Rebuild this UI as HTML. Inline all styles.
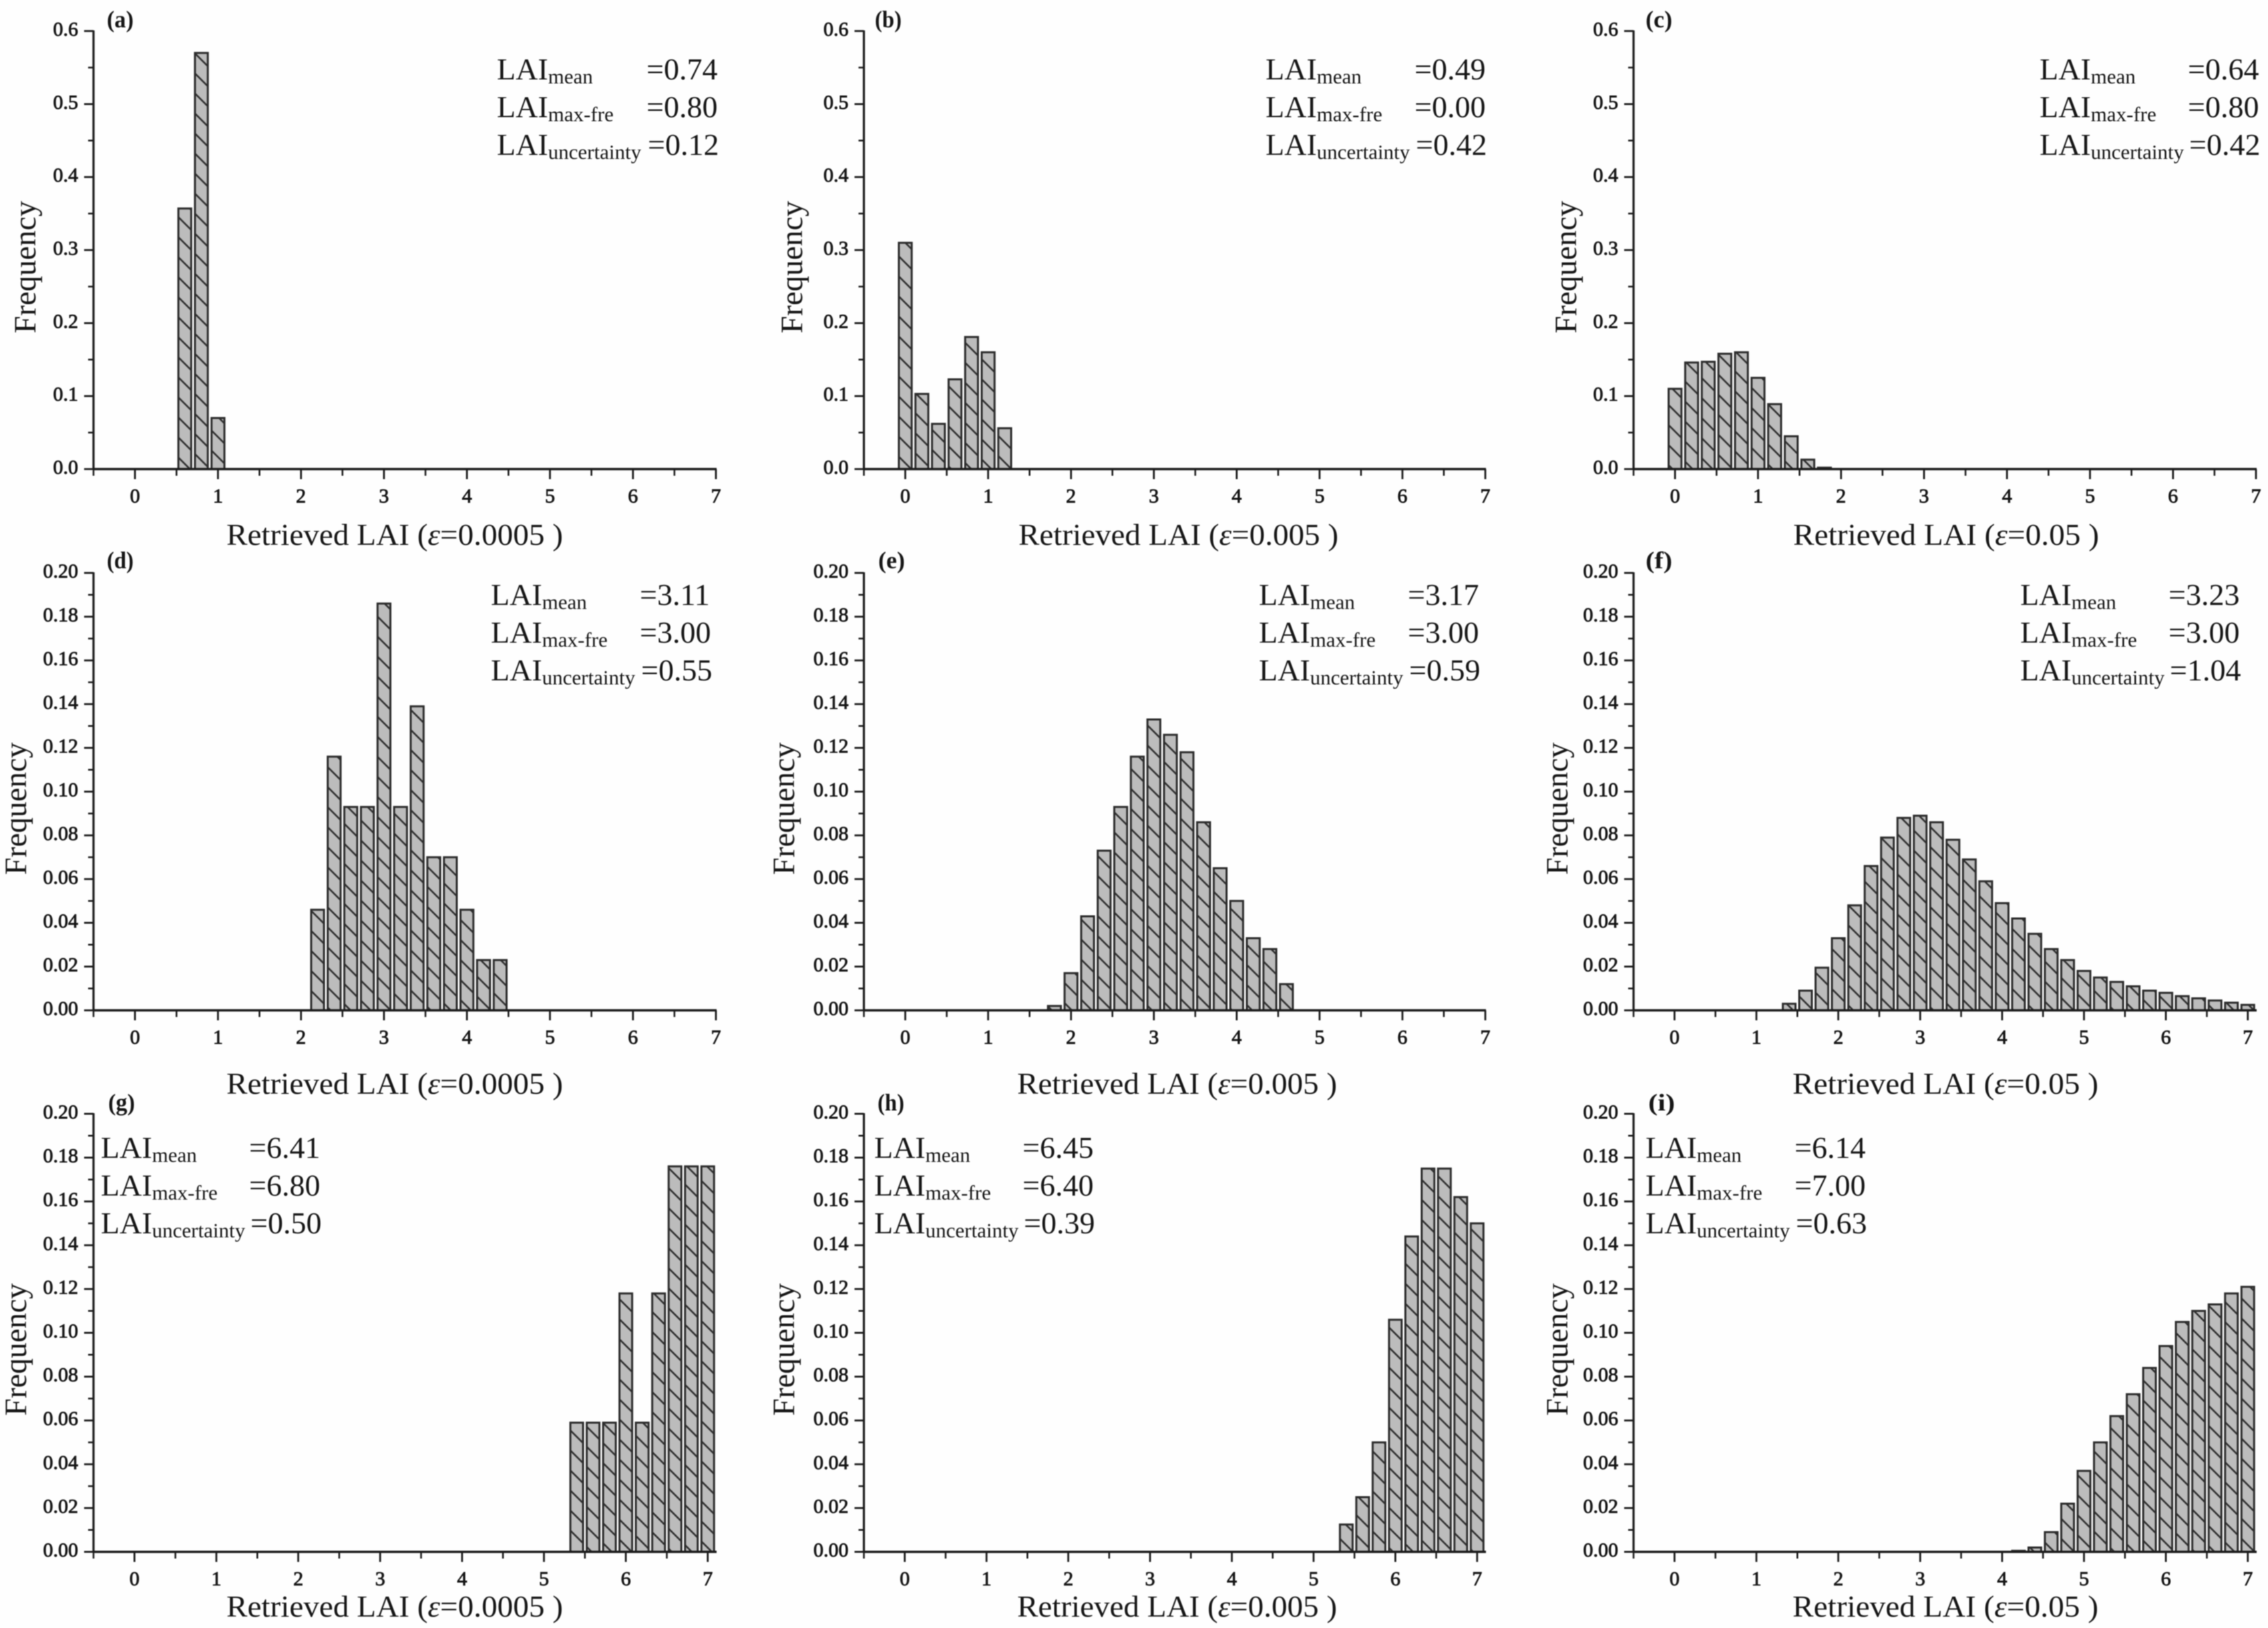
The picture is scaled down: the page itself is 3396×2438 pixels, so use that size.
<!DOCTYPE html>
<html lang="en">
<head>
<meta charset="utf-8">
<title>Retrieved LAI frequency histograms</title>
<style>
html,body{margin:0;padding:0;background:#fff;}
svg{display:block;filter:blur(0.9px);}
text{font-family:"Liberation Serif",serif;fill:#161616;}
</style>
</head>
<body>
<svg id="chart" xmlns="http://www.w3.org/2000/svg" width="3396" height="2438" viewBox="0 0 3396 2438">
<defs>
<pattern id="hatch" patternUnits="userSpaceOnUse" width="30" height="30" patternTransform="translate(0 28)">
<rect width="30" height="30" fill="#bcbcbc"/>
<path d="M-3,-3 L33,33 M-3,27 L3,33 M27,-3 L33,3" stroke="#303030" stroke-width="2.6" fill="none"/>
</pattern>
</defs>
<rect width="3396" height="2438" fill="#fefefe"/>
</svg>
<script>
// ---- chart data ----
const xTickValues = [0, 1, 2, 3, 4, 5, 6, 7];
const xTickLabels = ['0', '1', '2', '3', '4', '5', '6', '7'];
const yTickValuesWide = [0, 0.1, 0.2, 0.3, 0.4, 0.5, 0.6];
const yTickLabelsWide = ['0.0', '0.1', '0.2', '0.3', '0.4', '0.5', '0.6'];
const yTickValuesFine = [0, 0.02, 0.04, 0.06, 0.08, 0.10, 0.12, 0.14, 0.16, 0.18, 0.20];
const yTickLabelsFine = ['0.00', '0.02', '0.04', '0.06', '0.08', '0.10', '0.12', '0.14', '0.16', '0.18', '0.20'];

const binsA = [0.6, 0.8, 1.0];
const freqA = [0.357, 0.570, 0.070];
const binsB = [0, 0.2, 0.4, 0.6, 0.8, 1.0, 1.2];
const freqB = [0.310, 0.103, 0.062, 0.123, 0.181, 0.160, 0.056];
const binsC = [0, 0.2, 0.4, 0.6, 0.8, 1.0, 1.2, 1.4, 1.6, 1.8];
const freqC = [0.110, 0.146, 0.147, 0.158, 0.160, 0.125, 0.089, 0.045, 0.013, 0.002];
const binsD = [2.2, 2.4, 2.6, 2.8, 3.0, 3.2, 3.4, 3.6, 3.8, 4.0, 4.2, 4.4];
const freqD = [0.046, 0.116, 0.093, 0.093, 0.186, 0.093, 0.139, 0.070, 0.070, 0.046, 0.023, 0.023];
const binsE = [1.8, 2.0, 2.2, 2.4, 2.6, 2.8, 3.0, 3.2, 3.4, 3.6, 3.8, 4.0, 4.2, 4.4, 4.6];
const freqE = [0.002, 0.017, 0.043, 0.073, 0.093, 0.116, 0.133, 0.126, 0.118, 0.086, 0.065, 0.050, 0.033, 0.028, 0.012];
const binsF = [1.4, 1.6, 1.8, 2.0, 2.2, 2.4, 2.6, 2.8, 3.0, 3.2, 3.4, 3.6, 3.8, 4.0, 4.2, 4.4, 4.6, 4.8, 5.0, 5.2, 5.4, 5.6, 5.8, 6.0, 6.2, 6.4, 6.6, 6.8, 7.0];
const freqF = [0.003, 0.009, 0.0195, 0.033, 0.048, 0.066, 0.079, 0.088, 0.089, 0.086, 0.078, 0.069, 0.059, 0.049, 0.042, 0.035, 0.028, 0.023, 0.018, 0.015, 0.013, 0.011, 0.009, 0.008, 0.0065, 0.0055, 0.0045, 0.0035, 0.0025];
const binsG = [5.4, 5.6, 5.8, 6.0, 6.2, 6.4, 6.6, 6.8, 7.0];
const freqG = [0.059, 0.059, 0.059, 0.118, 0.059, 0.118, 0.176, 0.176, 0.176];
const binsH = [5.4, 5.6, 5.8, 6.0, 6.2, 6.4, 6.6, 6.8, 7.0];
const freqH = [0.0125, 0.025, 0.050, 0.106, 0.144, 0.175, 0.175, 0.162, 0.150];
const binsI = [4.2, 4.4, 4.6, 4.8, 5.0, 5.2, 5.4, 5.6, 5.8, 6.0, 6.2, 6.4, 6.6, 6.8, 7.0];
const freqI = [0.0005, 0.002, 0.009, 0.022, 0.037, 0.050, 0.062, 0.072, 0.084, 0.094, 0.105, 0.110, 0.113, 0.118, 0.121];

const panelIds = ['a', 'b', 'c', 'd', 'e', 'f', 'g', 'h', 'i'];
const epsilonLabels = ['0.0005', '0.005', '0.05', '0.0005', '0.005', '0.05', '0.0005', '0.005', '0.05'];
const statMean = ['0.74', '0.49', '0.64', '3.11', '3.17', '3.23', '6.41', '6.45', '6.14'];
const statMaxFre = ['0.80', '0.00', '0.80', '3.00', '3.00', '3.00', '6.80', '6.40', '7.00'];
const statUncertainty = ['0.12', '0.42', '0.42', '0.55', '0.59', '1.04', '0.50', '0.39', '0.63'];

// ---- layout (pixels), kept apart from the data ----
const layouts = [
  {bins: binsA, freq: freqA, left: 140, right: 1072, xMax: 7, top: 46.5, bottom: 702.5, yMax: 0.6, wide: true, tagX: 160, tagY: 41, freqX: 53, freqY: 400, xlX: 339, xlW: 504, xlY: 816, statX: 744, eqX: 968, statY: 119},
  {bins: binsB, freq: freqB, left: 1293.5, right: 2224, xMax: 7, top: 46.5, bottom: 702.5, yMax: 0.6, wide: true, tagX: 1310, tagY: 41, freqX: 1201, freqY: 400, xlX: 1525, xlW: 479, xlY: 816, statX: 1895, eqX: 2118, statY: 119},
  {bins: binsC, freq: freqC, left: 2446, right: 3378, xMax: 7, top: 46.5, bottom: 702.5, yMax: 0.6, wide: true, tagX: 2464, tagY: 41, freqX: 2360, freqY: 400, xlX: 2685, xlW: 458, xlY: 816, statX: 3054, eqX: 3276, statY: 119},
  {bins: binsD, freq: freqD, left: 140, right: 1072, xMax: 7, top: 858, bottom: 1513, yMax: 0.2, wide: false, tagX: 160, tagY: 851, freqX: 39, freqY: 1211, xlX: 339, xlW: 504, xlY: 1638, statX: 735, eqX: 958, statY: 906},
  {bins: binsE, freq: freqE, left: 1293.5, right: 2224, xMax: 7, top: 858, bottom: 1513, yMax: 0.2, wide: false, tagX: 1315, tagY: 851, freqX: 1189, freqY: 1211, xlX: 1523, xlW: 479, xlY: 1638, statX: 1885, eqX: 2108, statY: 906},
  {bins: binsF, freq: freqF, left: 2446, right: 3378, xMax: 7.1, top: 858, bottom: 1513, yMax: 0.2, wide: false, tagX: 2464, tagY: 851, freqX: 2347, freqY: 1211, xlX: 2684, xlW: 458, xlY: 1638, statX: 3025, eqX: 3247, statY: 906},
  {bins: binsG, freq: freqG, left: 140, right: 1072, xMax: 7.1, top: 1668, bottom: 2324, yMax: 0.2, wide: false, tagX: 162, tagY: 1663, freqX: 39, freqY: 2021, xlX: 339, xlW: 504, xlY: 2421, statX: 151, eqX: 373, statY: 1734},
  {bins: binsH, freq: freqH, left: 1293.5, right: 2224, xMax: 7.1, top: 1668, bottom: 2324, yMax: 0.2, wide: false, tagX: 1314, tagY: 1663, freqX: 1189, freqY: 2021, xlX: 1523, xlW: 479, xlY: 2421, statX: 1309, eqX: 1531, statY: 1734},
  {bins: binsI, freq: freqI, left: 2446, right: 3378, xMax: 7.1, top: 1668, bottom: 2324, yMax: 0.2, wide: false, tagX: 2468, tagY: 1663, freqX: 2347, freqY: 2021, xlX: 2684, xlW: 458, xlY: 2421, statX: 2464, eqX: 2687, statY: 1734}
];

const NS = 'http://www.w3.org/2000/svg';
const root = document.getElementById('chart');
const X_MIN = -0.5;
const AXIS = '#1c1c1c';

function make(parent, tag, props, content) {
  const el = document.createElementNS(NS, tag);
  for (const k in props) el.setAttribute(k, props[k]);
  if (content !== undefined) el.textContent = content;
  parent.appendChild(el);
  return el;
}

layouts.forEach(function (p, idx) {
  const id = panelIds[idx];
  const xScale = function (v) { return p.left + (v - X_MIN) / (p.xMax - X_MIN) * (p.right - p.left); };
  const yScale = function (v) { return p.bottom - v / p.yMax * (p.bottom - p.top); };
  const unit = xScale(1) - xScale(0);

  const g = make(root, 'g', {});
  
  

  // bars
  p.bins.forEach(function (bin, i) {
    const w = 0.155 * unit;
    const top = yScale(p.freq[i]);
    const bar = make(g, 'rect', {x: xScale(bin) - w / 2, y: top, width: w, height: p.bottom - top, fill: 'url(#hatch)', stroke: '#2c2c2c', 'stroke-width': 3});
    
    
  });

  // axis lines
  const xAxis = make(g, 'line', {x1: p.left - 1, x2: p.right + 1, y1: p.bottom, y2: p.bottom, stroke: AXIS, 'stroke-width': 3.6});
  
  
  const yAxis = make(g, 'line', {x1: p.left, x2: p.left, y1: p.top - 1, y2: p.bottom + 1, stroke: AXIS, 'stroke-width': 3.2});
  
  

  // x ticks
  xTickValues.forEach(function (v, i) {
    const tx = xScale(v);
    const tick = make(g, 'line', {x1: tx, x2: tx, y1: p.bottom, y2: p.bottom + 15, stroke: AXIS, 'stroke-width': 2.8});
    
    
    const lab = make(g, 'text', {x: tx, y: p.bottom + 50, 'text-anchor': 'middle', 'font-size': 30, stroke: '#161616', 'stroke-width': 0.9}, xTickLabels[i]);
    
    
    const mx = xScale(v - 0.5);
    const minor = make(g, 'line', {x1: mx, x2: mx, y1: p.bottom, y2: p.bottom + 10, stroke: AXIS, 'stroke-width': 2.6});
    
    
  });

  // y ticks
  const yVals = p.wide ? yTickValuesWide : yTickValuesFine;
  const yLabs = p.wide ? yTickLabelsWide : yTickLabelsFine;
  yVals.forEach(function (v, i) {
    const ty = yScale(v);
    const tick = make(g, 'line', {x1: p.left - 14, x2: p.left, y1: ty, y2: ty, stroke: AXIS, 'stroke-width': 2.8});
    
    
    const lab = make(g, 'text', {x: p.left - 23, y: ty + 7, 'text-anchor': 'end', 'font-size': 30, stroke: '#161616', 'stroke-width': 0.9}, yLabs[i]);
    
    
    if (i < yVals.length - 1) {
      const my = yScale((v + yVals[i + 1]) / 2);
      const minor = make(g, 'line', {x1: p.left - 8, x2: p.left, y1: my, y2: my, stroke: AXIS, 'stroke-width': 2.6});
      
      
    }
  });

  // panel tag
  const tag = make(g, 'text', {x: p.tagX, y: p.tagY, 'font-size': 36, 'font-weight': 'bold', textLength: 40, lengthAdjust: 'spacingAndGlyphs'}, '(' + id + ')');
  
  

  // y axis title
  const yTitle = make(g, 'text', {x: 0, y: 0, 'font-size': 47, 'text-anchor': 'middle', transform: 'translate(' + p.freqX + ' ' + p.freqY + ') rotate(-90)'}, 'Frequency');
  
  

  // x axis title
  const xTitle = make(g, 'text', {x: p.xlX, y: p.xlY, 'font-size': 46, textLength: p.xlW, lengthAdjust: 'spacingAndGlyphs'});
  
  
  make(xTitle, 'tspan', {}, 'Retrieved LAI (');
  make(xTitle, 'tspan', {'font-style': 'italic'}, 'ε');
  make(xTitle, 'tspan', {}, '=' + epsilonLabels[idx] + ' )');

  // statistics block
  const subs = ['mean', 'max-fre', 'uncertainty'];
  const vals = [statMean[idx], statMaxFre[idx], statUncertainty[idx]];
  subs.forEach(function (sub, i) {
    const by = p.statY + i * 56.5;
    const label = make(g, 'text', {x: p.statX, y: by, 'font-size': 46});
    
    
    make(label, 'tspan', {}, 'LAI');
    make(label, 'tspan', {'font-size': 31, dy: 6}, sub);
    const value = make(g, 'text', {x: p.eqX + (i === 2 ? 2 : 0), y: by, 'font-size': 46}, '=' + vals[i]);
    
    
  });
});
</script>
</body>
</html>
